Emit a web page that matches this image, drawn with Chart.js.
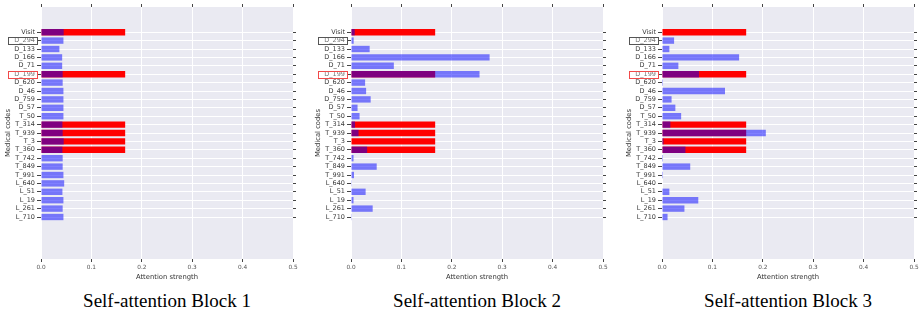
<!DOCTYPE html>
<html>
<head>
<meta charset="utf-8">
<title>Self-attention blocks</title>
<script src="https://cdn.jsdelivr.net/npm/chart.js@4.4.1/dist/chart.umd.min.js"></script>
<style>
    body { margin: 0; background: #fff; width: 920px; height: 310px; overflow: hidden; position: relative; }
    .panel { position: absolute; top: 0; width: 310px; height: 310px; }
    .panel canvas { position: absolute; left: 0; top: 0; }
    .caption {
        position: absolute; left: 41px; width: 252px; top: 291px;
        font-family: "Liberation Serif", "Times New Roman", serif;
        font-size: 19px; line-height: 19px; color: #000; text-align: center; white-space: nowrap;
    }
</style>
</head>
<body>
<div class="panel" style="left:0px"><canvas id="block1" width="310" height="285"></canvas><div class="caption">Self-attention Block 1</div></div>
<div class="panel" style="left:310px"><canvas id="block2" width="310" height="285"></canvas><div class="caption">Self-attention Block 2</div></div>
<div class="panel" style="left:621px"><canvas id="block3" width="310" height="285"></canvas><div class="caption">Self-attention Block 3</div></div>

<script>
// 医疗编码（自上而下）
const codes = ['Visit', 'D_294', 'D_133', 'D_166', 'D_71', 'D_199', 'D_620', 'D_46', 'D_759', 'D_57',
    'T_50', 'T_314', 'T_939', 'T_3', 'T_360', 'T_742', 'T_849', 'T_991', 'L_640', 'L_51', 'L_19', 'L_261', 'L_710'];

// 红色条：选中的编码
const selected = [0.167, null, null, null, null, 0.167, null, null, null, null,
    null, 0.167, 0.167, 0.167, 0.167, null, null, null, null, null, null, null, null];

// 各 block 的注意力强度
const block1 = [0.045, 0.0445, 0.0365, 0.042, 0.042, 0.043, 0.043, 0.0445, 0.0445, 0.0445,
    0.0445, 0.0425, 0.043, 0.045, 0.0425, 0.043, 0.043, 0.0445, 0.046, 0.0425, 0.0445, 0.043, 0.0445];
const block2 = [0.0073, 0.0053, 0.037, 0.275, 0.085, 0.255, 0.028, 0.030, 0.039, 0.013,
    0.017, 0.008, 0.015, 0.001, 0.032, 0.005, 0.051, 0.006, 0.0005, 0.029, 0.005, 0.043, 0.0015];
const block3 = [0.001, 0.024, 0.0146, 0.153, 0.0325, 0.0735, 0.002, 0.125, 0.019, 0.0265,
    0.038, 0.0166, 0.206, 0.003, 0.0465, 0.002, 0.056, 0.002, 0, 0.0146, 0.072, 0.0445, 0.011];

const xTicks = [0, 0.1, 0.2, 0.3, 0.4, 0.5];

// 标注框
const boxedCodes = ['D_294', 'D_199'];
const boxColors = ['#555555', '#f24a4a'];

const tickFont = { family: 'DejaVu Sans', size: 6.5 };
const titleFont = { family: 'DejaVu Sans', size: 6.8 };

// 绘图区背景
const plotBackground = {
    id: 'plotBackground',
    beforeDraw(chart) {
        const { ctx, chartArea: a } = chart;
        ctx.save();
        ctx.fillStyle = '#eaeaf2';
        ctx.fillRect(a.left, a.top, a.right - a.left, a.bottom - a.top);
        ctx.restore();
    }
};

// 标签外框
const labelBoxes = {
    id: 'labelBoxes',
    afterDraw(chart) {
        const { ctx, chartArea } = chart;
        const yScale = chart.scales.y;
        boxedCodes.forEach((code, k) => {
            const py = yScale.getPixelForValue(codes.indexOf(code));
            const x0 = Math.round(chartArea.left - 33) + 0.5;
            const y0 = Math.round(py - 3.7) + 0.5;
            ctx.save();
            ctx.fillStyle = 'rgba(255,255,255,0.3)';
            ctx.fillRect(x0, y0, 29, 7);
            ctx.strokeStyle = boxColors[k];
            ctx.lineWidth = 1;
            ctx.strokeRect(x0, y0, 29, 7);
            ctx.restore();
        });
    }
};

function makeChart(id, values) {
    const ctx = document.getElementById(id).getContext('2d');
    new Chart(ctx, {
        type: 'bar',
        data: {
            datasets: [{
                label: 'attention',
                data: values.map((v, i) => ({ x: v, y: i })),
                backgroundColor: 'rgba(0, 0, 255, 0.5)',
                order: 0
            }, {
                label: 'selected',
                data: selected.map((v, i) => ({ x: v, y: i })),
                backgroundColor: '#ff0000',
                order: 1
            }]
        },
        options: {
            indexAxis: 'y',
            responsive: false,
            animation: false,
            layout: { padding: 0 },
            datasets: {
                bar: { grouped: false, categoryPercentage: 1, barPercentage: 0.76 }
            },
            plugins: {
                legend: { display: false },
                tooltip: { enabled: false }
            },
            scales: {
                x: {
                    type: 'linear', position: 'bottom', min: 0, max: 0.5,
                    afterBuildTicks: s => { s.ticks = xTicks.map(v => ({ value: v })); },
                    afterFit: s => { s.height = 26; },
                    border: { display: false },
                    grid: { color: '#ffffff', tickColor: '#444', tickLength: 3 },
                    ticks: {
                        font: { family: 'DejaVu Sans', size: 5.8 }, color: '#555', padding: 2,
                        maxRotation: 0, callback: v => v.toFixed(1)
                    },
                    title: {
                        display: true, text: 'Attention strength', font: titleFont, color: '#333',
                        padding: { top: 0, bottom: 4 }
                    }
                },
                xTop: {
                    type: 'linear', position: 'top', min: 0, max: 0.5,
                    afterBuildTicks: s => { s.ticks = xTicks.map(v => ({ value: v })); },
                    afterFit: s => { s.height = 7; },
                    border: { display: false },
                    grid: { drawOnChartArea: false, tickColor: '#444', tickLength: 3 },
                    ticks: { display: false }
                },
                y: {
                    type: 'linear', position: 'left', reverse: true, min: -3, max: 27, offset: false,
                    afterBuildTicks: s => { s.ticks = codes.map((c, i) => ({ value: i })); },
                    afterFit: s => { s.width = 41; },
                    border: { display: false },
                    grid: { offset: false, color: '#ffffff', tickColor: '#444', tickLength: 4 },
                    ticks: {
                        autoSkip: false, font: tickFont, color: '#3a3a3a', padding: 2,
                        callback: v => codes[v]
                    },
                    title: {
                        display: true, text: 'Medical codes', font: titleFont, color: '#333',
                        padding: { top: 4, bottom: 0 }
                    }
                },
                yRight: {
                    type: 'linear', position: 'right', reverse: true, min: -3, max: 27, offset: false,
                    afterBuildTicks: s => { s.ticks = codes.map((c, i) => ({ value: i })); },
                    afterFit: s => { s.width = 17; },
                    border: { display: false },
                    grid: { offset: false, drawOnChartArea: false, tickColor: '#444', tickLength: 3 },
                    ticks: { display: false }
                }
            }
        },
        plugins: [plotBackground, labelBoxes]
    });
}

makeChart('block1', block1);
makeChart('block2', block2);
makeChart('block3', block3);
</script>
</body>
</html>
